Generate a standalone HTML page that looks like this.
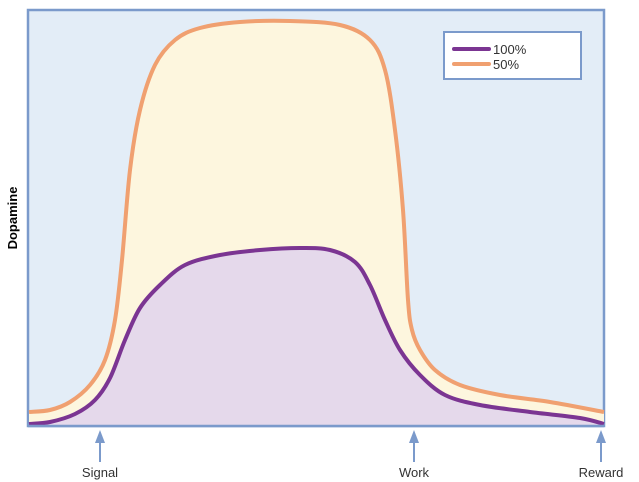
<!DOCTYPE html>
<html><head><meta charset="utf-8"><style>
body{margin:0;background:#fff;}
svg{display:block;font-family:"Liberation Sans",sans-serif;}
</style></head><body>
<svg id="c" width="639" height="482">
<rect x="28" y="10" width="576" height="416" fill="#e3edf7" stroke="#7b9acb" stroke-width="2.5"/>
<g id="marks"></g>
<line x1="28" y1="426" x2="604" y2="426" stroke="#7b9acb" stroke-width="2.5"/>
<text x="17" y="218" font-size="13" font-weight="bold" text-anchor="middle" transform="rotate(-90 17 218)">Dopamine</text>
<g>
<rect x="444" y="32" width="137" height="47" fill="#fff" stroke="#7b9acb" stroke-width="2"/>
<line x1="454" y1="49" x2="489" y2="49" stroke="#7b3592" stroke-width="4" stroke-linecap="round"/>
<text x="493" y="54" font-size="13" fill="#333">100%</text>
<line x1="454" y1="64" x2="489" y2="64" stroke="#f0a070" stroke-width="4" stroke-linecap="round"/>
<text x="493" y="69" font-size="13" fill="#333">50%</text>
</g>
<g id="events"></g>
</svg>
<script>
const xs50=[1,22,42,62,77,87,94,102,112,127,147,172,212,262,312,342,357,367,375,380,384,392,407,432,472,522,576];
const ys50=[14,16,24,41,66,106,166,256,316,361,386,398,404,405,401,386,356,296,216,126,96,76,56,41,31,24,14];
const xs100=[1,22,47,67,82,97,112,132,157,192,232,272,302,327,342,357,372,392,417,452,502,552,576];
const ys100=[2,4,12,26,48,86,118,141,161,171,176,178,176,164,141,106,76,51,31,21,14,8,2];
const eventLabels=["Signal","Work","Reward"];
const eventXs=[72,386,573];
const X=v=>28+v, Y=v=>426-v;
const NS="http://www.w3.org/2000/svg";
function smooth(xs,ys){
  const p=xs.map((x,i)=>[X(x),Y(ys[i])]);
  let d="M"+p[0][0]+","+p[0][1];
  for(let i=0;i<p.length-1;i++){
    const p0=p[i-1]||p[i],p1=p[i],p2=p[i+1],p3=p[i+2]||p2;
    const c1=[p1[0]+(p2[0]-p0[0])/6,p1[1]+(p2[1]-p0[1])/6];
    const c2=[p2[0]-(p3[0]-p1[0])/6,p2[1]-(p3[1]-p1[1])/6];
    d+=`C${c1[0]},${c1[1]} ${c2[0]},${c2[1]} ${p2[0]},${p2[1]}`;
  }
  return d;
}
const g=document.getElementById("marks");
function add(tag,attrs){const e=document.createElementNS(NS,tag);for(const k in attrs)e.setAttribute(k,attrs[k]);g.appendChild(e);return e;}
const d50=smooth(xs50,ys50), d100=smooth(xs100,ys100);
let e;
e=add("path",{d:d50+`L${X(xs50[xs50.length-1])},426L${X(xs50[0])},426Z`,fill:"#fdf6de"});


e=add("path",{d:d100+`L${X(xs100[xs100.length-1])},426L${X(xs100[0])},426Z`,fill:"#e5d9eb"});


e=add("path",{d:d50,fill:"none",stroke:"#f0a070","stroke-width":4});


e=add("path",{d:d100,fill:"none",stroke:"#7b3592","stroke-width":4});


const ev=document.getElementById("events");
eventLabels.forEach((lab,i)=>{
  const x=X(eventXs[i]);
  const l=document.createElementNS(NS,"line");
  l.setAttribute("x1",x);l.setAttribute("x2",x);l.setAttribute("y1",434);l.setAttribute("y2",462);
  l.setAttribute("stroke","#7b9acb");l.setAttribute("stroke-width",2);
  
  
  ev.appendChild(l);
  const h=document.createElementNS(NS,"path");
  h.setAttribute("d",`M${x-5},443L${x},430L${x+5},443Z`);h.setAttribute("fill","#7b9acb");
  
  
  ev.appendChild(h);
  const t=document.createElementNS(NS,"text");
  t.setAttribute("x",x);t.setAttribute("y",477);t.setAttribute("text-anchor","middle");
  t.setAttribute("font-size","13");t.setAttribute("fill","#333");t.textContent=lab;
  
  
  ev.appendChild(t);
});
</script>
</body></html>
